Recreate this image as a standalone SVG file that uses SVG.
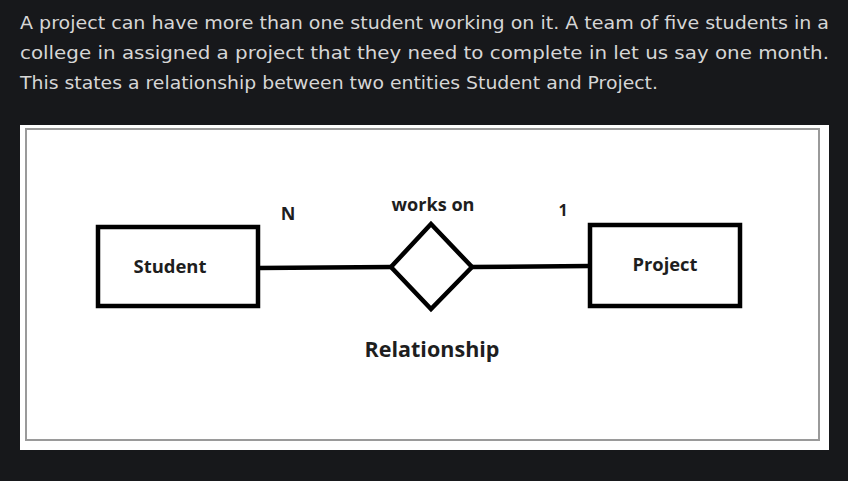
<svg xmlns="http://www.w3.org/2000/svg" width="848" height="481" viewBox="0 0 848 481">
<style>
.para{font-family:"DejaVu Sans",sans-serif;font-size:17px;fill:#d6d6d6}
.lbl{font-family:"Open Sans","Noto Sans",sans-serif;font-weight:bold;fill:#1e1e1e}
.shape{fill:#fff;stroke:#000;stroke-width:4.5}
.conn{stroke:#000;stroke-width:4.5;fill:none}
</style>
<rect width="848" height="481" fill="#17181b"/>
<g id="paragraph">
<text class="para" x="20" y="29" textLength="809" lengthAdjust="spacingAndGlyphs">A project can have more than one student working on it. A team of five students in a</text>
<text class="para" x="20" y="59" textLength="809" lengthAdjust="spacingAndGlyphs">college in assigned a project that they need to complete in let us say one month.</text>
<text class="para" x="20" y="89" textLength="638" lengthAdjust="spacingAndGlyphs">This states a relationship between two entities Student and Project.</text>
</g>
<g id="canvas">
<rect x="20" y="125" width="809" height="325" fill="#fff"/>
<rect x="26" y="129" width="793" height="311" fill="none" stroke="#9a9a9a" stroke-width="2"/>
</g>
<g id="connectors">
<line class="conn" x1="258" y1="268" x2="392" y2="267"/>
<line class="conn" x1="471" y1="267" x2="590" y2="266"/>
</g>
<g id="student">
<rect class="shape" x="98" y="227" width="160" height="79"/>
<text class="lbl" x="170" y="273" font-size="18" text-anchor="middle" textLength="73" lengthAdjust="spacingAndGlyphs">Student</text>
</g>
<g id="works-on">
<polygon class="shape" points="431,224 472,267 431,309 391,267"/>
<text class="lbl" x="433" y="211" font-size="17" text-anchor="middle" textLength="83" lengthAdjust="spacingAndGlyphs">works on</text>
</g>
<g id="project">
<rect class="shape" x="590" y="225" width="150" height="81"/>
<text class="lbl" x="665" y="271" font-size="18" text-anchor="middle" textLength="65" lengthAdjust="spacingAndGlyphs">Project</text>
</g>
<g id="labels">
<text class="lbl" x="288" y="220" font-size="18" text-anchor="middle">N</text>
<text class="lbl" x="563" y="216" font-size="16" text-anchor="middle">1</text>
<text class="lbl" x="432" y="357" font-size="21" text-anchor="middle" textLength="135" lengthAdjust="spacingAndGlyphs">Relationship</text>
</g>
</svg>
